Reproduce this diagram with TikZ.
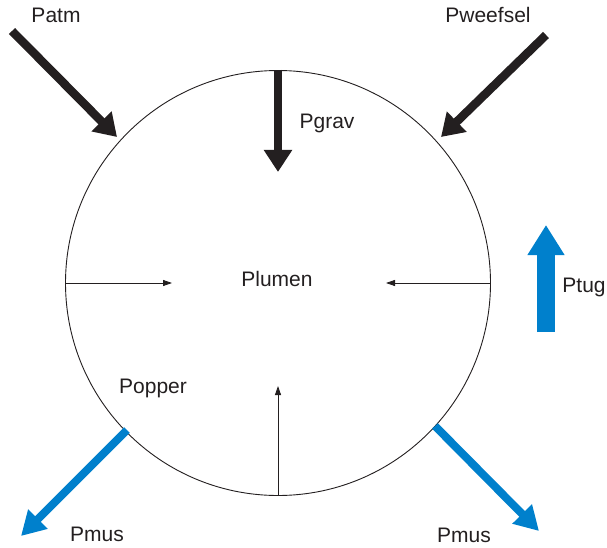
\documentclass[tikz,border=0pt]{standalone}
\usepackage{fontspec}
\setmainfont{Liberation Sans}
\usetikzlibrary{arrows.meta}
\definecolor{mblue}{RGB}{0,128,204}
\definecolor{ink}{RGB}{35,31,32}
\begin{document}
\begin{tikzpicture}[x=1pt,y=-1pt,
  lbl/.style={inner sep=0pt,text=ink,font=\fontsize{21}{24}\selectfont},
  bigblack/.style={line width=8.5pt,ink,-{Triangle[width=27pt,length=22pt]}},
  thinarr/.style={line width=0.8pt,ink,-{Triangle[width=6pt,length=9pt]}},
  bluemus/.style={line width=8pt,mblue,-{Triangle[width=26pt,length=24pt]}},
  bluetug/.style={line width=18pt,mblue,-{Triangle[width=35pt,length=30pt]}}]
\useasboundingbox (0,0) rectangle (607,548);
\node[circle,draw=ink,line width=0.9pt,minimum size=425pt,inner sep=0pt] (c) at (278,283) {};
% thick black arrows
\coordinate (atmS) at (12,31);
\coordinate (atmE) at (117,137);
\coordinate (weeS) at (546,35);
\coordinate (weeE) at (441,137);
\coordinate (gravS) at (278,70);
\coordinate (gravE) at (278,172);
\draw[bigblack] (atmS) -- (atmE);
\draw[bigblack] (weeS) -- (weeE);
\draw[bigblack] (gravS) -- (gravE);
% thin arrows
\coordinate (lS) at (c.west);
\coordinate (lE) at (172,283);
\coordinate (rS) at (c.east);
\coordinate (rE) at (386,283);
\coordinate (bS) at (c.south);
\coordinate (bE) at (278,386);
\draw[thinarr] (lS) -- (lE);
\draw[thinarr] (rS) -- (rE);
\draw[thinarr] (bS) -- (bE);
% blue arrows
\coordinate (tugS) at (546,332);
\coordinate (tugE) at (546,225);
\draw[bluetug] (tugS) -- (tugE);
\coordinate (mlS) at (127,430);
\coordinate (mlE) at (21,536);
\draw[bluemus] (mlS) -- (mlE);
\coordinate (mrS) at (435,426);
\coordinate (mrE) at (539,531);
\draw[bluemus] (mrS) -- (mrE);
% labels
\node[lbl] (latm) at (56,15) {Patm};
\node[lbl] (lwee) at (488,15) {Pweefsel};
\node[lbl] (lgrav) at (327,123) {Pgrav};
\node[lbl] (llum) at (277,279) {Plumen};
\node[lbl] (ltug) at (584,287) {Ptug};
\node[lbl] (lopp) at (153,388) {Popper};
\node[lbl] (lmus1) at (97,534) {Pmus};
\node[lbl] (lmus2) at (464,535) {Pmus};
\end{tikzpicture}
\end{document}
